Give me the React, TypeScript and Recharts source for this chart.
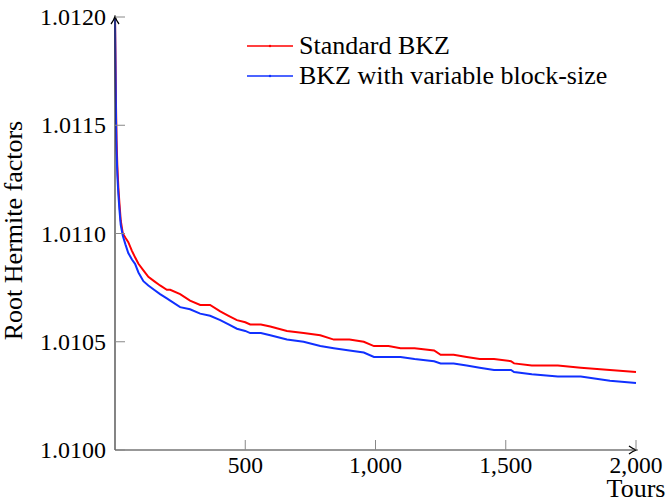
import { Legend, Line, LineChart, XAxis, YAxis } from "recharts";

// x values (tours) shared by both series
const tours = [
  0, 2, 4, 6, 9, 13, 17, 22, 30, 40, 51, 65, 77, 90, 109, 128, 150, 173, 199, 212,
  250, 288, 327, 365, 404, 436, 468, 500, 519, 560, 596, 660, 724, 788, 840, 900,
  955, 994, 1050, 1096, 1150, 1225, 1250, 1300, 1350, 1400, 1455, 1520, 1532, 1600,
  1700, 1788, 1900, 2000,
];

const standardBkz = [
  1.012, 1.0118, 1.01158, 1.01143, 1.01131, 1.01121, 1.01114, 1.01106, 1.011, 1.01098,
  1.01096, 1.01092, 1.01089, 1.01086, 1.01083, 1.0108, 1.01078, 1.01076, 1.01074, 1.01074,
  1.01072, 1.01069, 1.01067, 1.01067, 1.01064, 1.01062, 1.0106, 1.01059, 1.01058, 1.01058,
  1.01057, 1.01055, 1.01054, 1.01053, 1.01051, 1.01051, 1.0105, 1.01048, 1.01048, 1.01047,
  1.01047, 1.01046, 1.01044, 1.01044, 1.01043, 1.01042, 1.01042, 1.01041, 1.0104, 1.01039,
  1.01039, 1.01038, 1.01037, 1.01036,
];

const variableBkz = [
  1.012, 1.01175, 1.01152, 1.01138, 1.01127, 1.01118, 1.01111, 1.01104, 1.01099, 1.01095,
  1.01091, 1.01088, 1.01086, 1.01082, 1.01078, 1.01076, 1.01074, 1.01072, 1.0107, 1.01069,
  1.01066, 1.01065, 1.01063, 1.01062, 1.0106, 1.01058, 1.01056, 1.01055, 1.01054, 1.01054,
  1.01053, 1.01051, 1.0105, 1.01048, 1.01047, 1.01046, 1.01045, 1.01043, 1.01043, 1.01043,
  1.01042, 1.01041, 1.0104, 1.0104, 1.01039, 1.01038, 1.01037, 1.01037, 1.01036, 1.01035,
  1.01034, 1.01034, 1.01032, 1.01031,
];

const xTicks = [500, 1000, 1500, 2000];
const yTicks = [1.01, 1.0105, 1.011, 1.0115, 1.012];

const SERIES = [
  { key: "standard", name: "Standard BKZ", color: "#ff0000" },
  { key: "variable", name: "BKZ with variable block-size", color: "#1030ff" },
];

const FONT = '"Liberation Serif", "Times New Roman", serif';
const textStyle = (size: number) => ({ fontFamily: FONT, fontSize: size, fill: "#000" });

const data = tours.map((t, i) => ({
  tours: t,
  standard: standardBkz[i],
  variable: variableBkz[i],
}));

function LegendBox() {
  return (
    <div style={{ fontFamily: FONT, fontSize: 26, color: "#000", lineHeight: "30px" }}>
      {SERIES.map((s) => (
        <div key={s.key} style={{ display: "flex", alignItems: "center", height: 30 }}>
          <svg width={52} height={10}>
            <line x1={0} y1={5} x2={46} y2={5} stroke={s.color} strokeWidth={1.3} />
            <circle cx={23} cy={5} r={1.2} fill={s.color} />
          </svg>
          <span style={{ whiteSpace: "nowrap" }}>{s.name}</span>
        </div>
      ))}
    </div>
  );
}

function XTick(props: any) {
  return (
    <text x={props.x} y={props.y} dy="0.71em" textAnchor="middle" style={textStyle(23.5)}>
      {Number(props.payload.value).toLocaleString("en-US")}
    </text>
  );
}

function YTick(props: any) {
  return (
    <text x={props.x} y={props.y} dy="0.34em" textAnchor="end" style={textStyle(24)}>
      {Number(props.payload.value).toFixed(4)}
    </text>
  );
}

export default function App() {
  return (
    <div style={{ position: "absolute", left: 0, top: 0, fontFamily: FONT }}>
      <svg width={0} height={0} style={{ position: "absolute" }}>
        <defs>
          <marker
            id="axisArrow"
            markerUnits="userSpaceOnUse"
            markerWidth={12}
            markerHeight={12}
            viewBox="0 0 12 12"
            refX={10}
            refY={6}
            orient="auto-start-reverse"
          >
            <path d="M3,2 Q7,5 10.5,6 Q7,7 3,10" fill="none" stroke="#000" strokeWidth={1.3} />
          </marker>
        </defs>
      </svg>
      <LineChart
        width={671}
        height={504}
        data={data}
        margin={{ top: 17, right: 35, bottom: 0, left: 0 }}
      >
        <XAxis
          dataKey="tours"
          type="number"
          domain={[0, 2000]}
          ticks={xTicks}
          interval={0}
          height={54}
          tickSize={-10}
          tickMargin={16}
          tick={<XTick />}
          tickLine={{ stroke: "#888", strokeWidth: 1 }}
          axisLine={{ stroke: "#333", strokeWidth: 1.2, markerEnd: "url(#axisArrow)" }}
          label={{
            content: (p: any) => (
              <text
                x={p.viewBox.x + p.viewBox.width}
                y={p.viewBox.y + 47}
                textAnchor="middle"
                style={textStyle(26)}
              >
                Tours
              </text>
            ),
          }}
        />
        <YAxis
          type="number"
          width={115}
          domain={[1.01, 1.012]}
          ticks={yTicks}
          interval={0}
          allowDataOverflow
          tickSize={-10}
          tickMargin={19}
          tick={<YTick />}
          tickLine={{ stroke: "#888", strokeWidth: 1 }}
          axisLine={{ stroke: "#333", strokeWidth: 1.2, markerStart: "url(#axisArrow)" }}
          label={{
            content: (p: any) => {
              const cx = 22;
              const cy = p.viewBox.y + p.viewBox.height / 2 - 3;
              return (
                <text
                  x={cx}
                  y={cy}
                  transform={`rotate(-90 ${cx} ${cy})`}
                  textAnchor="middle"
                  style={textStyle(26)}
                >
                  Root Hermite factors
                </text>
              );
            },
          }}
        />
        <Legend
          layout="vertical"
          align="center"
          verticalAlign="middle"
          wrapperStyle={{ left: 247, top: 31, width: "auto" }}
          content={() => <LegendBox />}
        />
        {SERIES.map((s) => (
          <Line
            key={s.key}
            dataKey={s.key}
            name={s.name}
            type="linear"
            stroke={s.color}
            strokeWidth={2}
            dot={false}
            isAnimationActive={false}
          />
        ))}
      </LineChart>
    </div>
  );
}
